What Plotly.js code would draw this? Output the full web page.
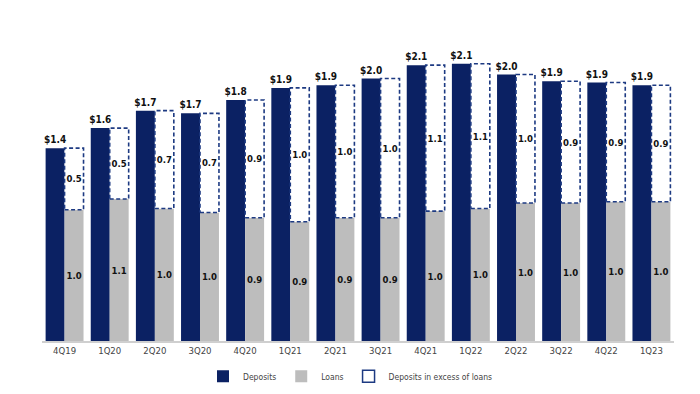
<!DOCTYPE html>
<html>
<head>
<meta charset="utf-8">
<script src="https://cdn.plot.ly/plotly-3.0.1.min.js"></script>
<style>html,body{margin:0;padding:0;background:#fff;}#chart{width:700px;height:394px;}</style>
</head>
<body>
<div id="chart"></div>
<script>
const quarters = ["4Q19","1Q20","2Q20","3Q20","4Q20","1Q21","2Q21","3Q21","4Q21","1Q22","2Q22","3Q22","4Q22","1Q23"];
const deposits = [1.44,1.59,1.72,1.70,1.80,1.89,1.91,1.96,2.06,2.07,1.99,1.94,1.93,1.91];
const loans    = [0.98,1.06,0.99,0.96,0.92,0.89,0.92,0.92,0.97,0.99,1.03,1.03,1.04,1.04];

const NAVY = "#0b2163";
const GRAY = "#bdbdbd";
const DASH = "#1d3a82";
const FONT = "DejaVu Sans Condensed, DejaVu Sans, sans-serif";
const W = 0.42;

const idx = quarters.map((q, i) => i);
const excess = deposits.map((d, i) => +(d - loans[i]).toFixed(2));

// dashed outline path for "excess" bars, derived from the data arrays
const ox = [], oy = [];
idx.forEach(i => {
  ox.push(i, i + W, i + W, i, i, null);
  oy.push(loans[i], loans[i], deposits[i], deposits[i], loans[i], null);
});

const traces = [
  {
    type: "bar", name: "Deposits", x: idx, y: deposits, width: W, offset: -W,
    marker: {color: NAVY, line: {width: 0}},
    text: deposits.map(v => "$" + v.toFixed(1)), textposition: "outside",
    textfont: {family: FONT, size: 10, color: "#111", weight: "bold"},
    constraintext: "none", cliponaxis: false, hoverinfo: "skip"
  },
  {
    type: "bar", name: "Loans", x: idx, y: loans, width: W, offset: 0,
    marker: {color: GRAY, line: {width: 0}},
    text: loans.map(v => v.toFixed(1)), textposition: "inside", insidetextanchor: "middle",
    textfont: {family: FONT, size: 9.5, color: "#111", weight: "bold"},
    constraintext: "none", textangle: 0, hoverinfo: "skip"
  },
  {
    type: "bar", name: "Deposits in excess of loans", x: idx, y: excess, base: loans,
    width: W, offset: 0, showlegend: false,
    marker: {color: "#ffffff", line: {width: 0}},
    text: excess.map(v => v.toFixed(1)), textposition: "inside", insidetextanchor: "middle",
    textfont: {family: FONT, size: 9.5, color: "#111", weight: "bold"},
    constraintext: "none", textangle: 0, hoverinfo: "skip"
  },
  {
    type: "scatter", mode: "lines", x: ox, y: oy, showlegend: false, hoverinfo: "skip",
    line: {color: DASH, width: 1.6, dash: "4px,2.5px"}, connectgaps: false
  },
  {
    type: "bar", name: "Deposits in excess of loans", x: [null], y: [null],
    marker: {color: "#ffffff", line: {color: DASH, width: 1.5}}, hoverinfo: "skip"
  }
];

const layout = {
  width: 700, height: 394,
  margin: {l: 42, r: 26, t: 33, b: 53},
  paper_bgcolor: "#fff", plot_bgcolor: "#fff",
  barmode: "overlay",
  font: {family: FONT, color: "#444"},
  xaxis: {
    range: [-0.5, 13.5], tickvals: idx, ticktext: quarters, showgrid: false, zeroline: false,
    showline: true, linecolor: "#cfcfcf", linewidth: 1.5, ticks: "", automargin: false,
    tickfont: {family: FONT, size: 9.5, color: "#444"}, fixedrange: true
  },
  yaxis: {range: [0, 2.3], visible: false, showgrid: false, zeroline: false, fixedrange: true, automargin: false},
  showlegend: true,
  legend: {
    orientation: "h", x: 0.5, xanchor: "center", xref: "container",
    y: 0.045, yanchor: "middle", yref: "container",
    font: {family: FONT, size: 8.5, color: "#444"}, traceorder: "normal",
    itemwidth: 30, bgcolor: "rgba(0,0,0,0)"
  }
};

Plotly.newPlot("chart", traces, layout, {displayModeBar: false, staticPlot: true});
</script>
</body>
</html>
